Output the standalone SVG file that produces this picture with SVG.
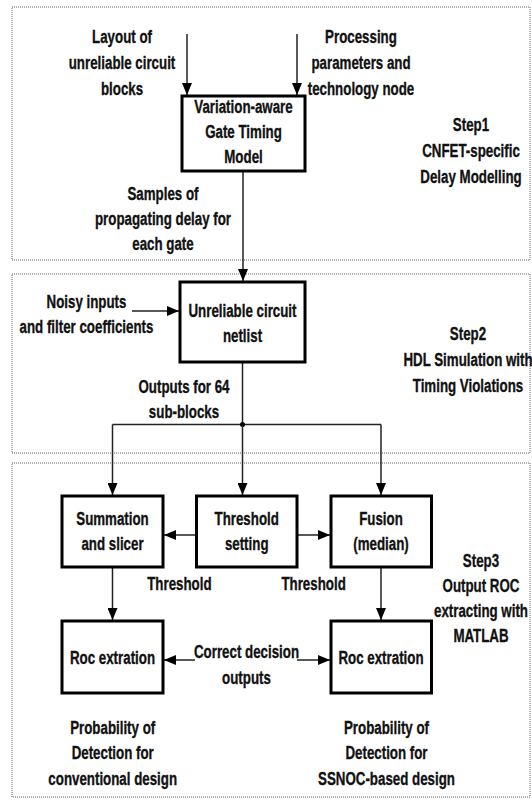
<svg xmlns="http://www.w3.org/2000/svg" width="532" height="802" viewBox="0 0 532 802">
<style>
.t{font-family:"Liberation Sans",Arial,sans-serif;font-weight:bold;font-size:18.5px;fill:#111;stroke:#111;stroke-width:0.35;text-anchor:middle}
.node{fill:#fff;stroke:#000;stroke-width:3}
.step{fill:none;stroke:#666;stroke-width:1;stroke-dasharray:1 1}
.c{fill:none;stroke:#222;stroke-width:1.5}
</style>
<defs>
<marker id="ah" viewBox="0 0 12 10" refX="12" refY="5" markerWidth="12" markerHeight="10" markerUnits="userSpaceOnUse" orient="auto">
<path d="M0,0 L12,5 L0,10 Z" fill="#000"/>
</marker>
</defs>
<rect width="532" height="802" fill="#fff"/>
<g id="steps">
<rect class="step" x="12" y="7" width="518" height="253"/>
<rect class="step" x="12" y="274" width="518" height="179"/>
<rect class="step" x="12" y="463" width="518" height="334"/>
</g>
<g id="connectors">
<line class="c" x1="187" y1="34" x2="187" y2="95" marker-end="url(#ah)"/>
<line class="c" x1="297" y1="34" x2="297" y2="95" marker-end="url(#ah)"/>
<line class="c" x1="243" y1="171" x2="243" y2="281" marker-end="url(#ah)"/>
<line class="c" x1="132" y1="311" x2="179" y2="311" marker-end="url(#ah)"/>
<line class="c" x1="242.5" y1="362" x2="242.5" y2="424.5"/>
<line class="c" x1="112.5" y1="424.5" x2="381" y2="424.5"/>
<circle cx="242.5" cy="424.5" r="2.5" fill="#000"/>
<line class="c" x1="112.5" y1="424.5" x2="112.5" y2="495" marker-end="url(#ah)"/>
<line class="c" x1="242.5" y1="424.5" x2="242.5" y2="495" marker-end="url(#ah)"/>
<line class="c" x1="381" y1="424.5" x2="381" y2="495" marker-end="url(#ah)"/>
<line class="c" x1="196.5" y1="535" x2="164" y2="535" marker-end="url(#ah)"/>
<line class="c" x1="297" y1="535" x2="330" y2="535" marker-end="url(#ah)"/>
<line class="c" x1="112.5" y1="567" x2="112.5" y2="620" marker-end="url(#ah)"/>
<line class="c" x1="381" y1="567" x2="381" y2="620" marker-end="url(#ah)"/>
<line class="c" x1="195" y1="660" x2="164" y2="660" marker-end="url(#ah)"/>
<line class="c" x1="297" y1="660" x2="330" y2="660" marker-end="url(#ah)"/>
</g>
<g id="labels">
<text class="t" transform="translate(122,43) scale(0.72,1)"><tspan x="0" y="0">Layout of</tspan><tspan x="0" y="26">unreliable circuit</tspan><tspan x="0" y="52">blocks</tspan></text>
<text class="t" transform="translate(361,43) scale(0.72,1)"><tspan x="0" y="0">Processing</tspan><tspan x="0" y="26">parameters and</tspan><tspan x="0" y="52">technology node</tspan></text>
<text class="t" transform="translate(471,131) scale(0.72,1)"><tspan x="0" y="0">Step1</tspan><tspan x="0" y="26">CNFET-specific</tspan><tspan x="0" y="52">Delay Modelling</tspan></text>
<text class="t" transform="translate(163,200) scale(0.72,1)"><tspan x="0" y="0">Samples of</tspan><tspan x="0" y="25">propagating delay for</tspan><tspan x="0" y="50">each gate</tspan></text>
<text class="t" transform="translate(86.5,308) scale(0.72,1)"><tspan x="0" y="0">Noisy inputs</tspan><tspan x="0" y="25">and filter coefficients</tspan></text>
<text class="t" transform="translate(468,340) scale(0.72,1)"><tspan x="0" y="0">Step2</tspan><tspan x="0" y="26">HDL Simulation with</tspan><tspan x="0" y="52">Timing Violations</tspan></text>
<text class="t" transform="translate(184,393) scale(0.72,1)"><tspan x="0" y="0">Outputs for 64</tspan><tspan x="0" y="25">sub-blocks</tspan></text>
<text class="t" transform="translate(179.4,589.5) scale(0.72,1)">Threshold</text>
<text class="t" transform="translate(313.6,589.5) scale(0.72,1)">Threshold</text>
<text class="t" transform="translate(481,567) scale(0.72,1)"><tspan x="0" y="0">Step3</tspan><tspan x="0" y="25">Output ROC</tspan><tspan x="0" y="50">extracting with</tspan><tspan x="0" y="75">MATLAB</tspan></text>
<text class="t" transform="translate(246.5,658) scale(0.72,1)"><tspan x="0" y="0">Correct decision</tspan><tspan x="0" y="26">outputs</tspan></text>
<text class="t" transform="translate(112.7,734) scale(0.72,1)"><tspan x="0" y="0">Probability of</tspan><tspan x="0" y="25.5">Detection for</tspan><tspan x="0" y="51">conventional design</tspan></text>
<text class="t" transform="translate(386.5,734) scale(0.72,1)"><tspan x="0" y="0">Probability of</tspan><tspan x="0" y="25.5">Detection for</tspan><tspan x="0" y="51">SSNOC-based design</tspan></text>
</g>
<g id="n-timing-model">
<rect class="node" x="182" y="96" width="123" height="75"/>
<text class="t" transform="translate(243.5,113) scale(0.72,1)"><tspan x="0" y="0">Variation-aware</tspan><tspan x="0" y="25">Gate Timing</tspan><tspan x="0" y="50">Model</tspan></text>
</g>
<g id="n-netlist">
<rect class="node" x="180" y="282" width="125" height="80"/>
<text class="t" transform="translate(242.5,317) scale(0.72,1)"><tspan x="0" y="0">Unreliable circuit</tspan><tspan x="0" y="25">netlist</tspan></text>
</g>
<g id="n-summation">
<rect class="node" x="62" y="496" width="101" height="71"/>
<text class="t" transform="translate(112.5,525) scale(0.72,1)"><tspan x="0" y="0">Summation</tspan><tspan x="0" y="25">and slicer</tspan></text>
</g>
<g id="n-threshold">
<rect class="node" x="196.5" y="496" width="100.5" height="71"/>
<text class="t" transform="translate(246.7,525) scale(0.72,1)"><tspan x="0" y="0">Threshold</tspan><tspan x="0" y="25">setting</tspan></text>
</g>
<g id="n-fusion">
<rect class="node" x="331" y="496" width="100.5" height="71"/>
<text class="t" transform="translate(381,525) scale(0.72,1)"><tspan x="0" y="0">Fusion</tspan><tspan x="0" y="25">(median)</tspan></text>
</g>
<g id="n-roc-left">
<rect class="node" x="62" y="621" width="101" height="72"/>
<text class="t" transform="translate(112.5,664) scale(0.72,1)">Roc extration</text>
</g>
<g id="n-roc-right">
<rect class="node" x="331" y="621" width="100.5" height="72"/>
<text class="t" transform="translate(381,664) scale(0.72,1)">Roc extration</text>
</g>
</svg>
